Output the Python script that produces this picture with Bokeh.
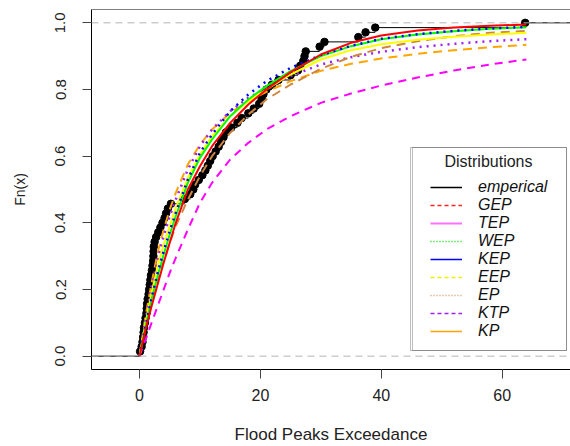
import numpy as np
from bokeh.plotting import figure
from bokeh.models import (Span, BoxAnnotation, Label, Legend, LegendItem,
                          FixedTicker, PrintfTickFormatter, Range1d)
from bokeh.embed import file_html
from bokeh.resources import INLINE

# ---------------- data ----------------
flood_peaks = [0.10, 0.35, 0.50, 0.60, 0.68, 0.75, 0.90, 1.00, 1.15, 1.20,
               1.25, 1.35, 1.50, 1.60, 1.70, 1.80, 1.90, 2.05, 2.15, 2.25,
               2.30, 2.33, 2.36, 2.50, 2.75, 3.10, 3.45, 3.80, 4.15, 4.40,
               4.70, 5.20, 7.50, 8.40, 8.90, 9.20, 9.80, 10.40, 10.90, 11.30,
               11.70, 12.10, 12.60, 13.10, 13.50, 13.90, 14.30, 15.20, 16.20, 16.90,
               18.00, 18.90, 19.80, 20.20, 20.50, 21.00, 21.90, 23.00, 25.00, 26.20,
               26.60, 27.10, 27.30, 27.50, 29.80, 30.60, 36.20, 37.40, 39.00, 63.80]

grid_x = [0, 1, 2, 3, 4, 5, 6, 8, 10, 12, 15, 18, 21, 25, 30, 35, 40, 46, 52, 58, 64]
cdf_red = [0, .08, .15, .215, .28, .34, .40, .50, .57, .63, .70, .755, .80, .852, .905, .94, .962, .977, .986, .991, .995]
cdf_green = [0, .09, .17, .24, .305, .365, .42, .52, .595, .65, .72, .77, .81, .855, .90, .93, .951, .965, .975, .982, .987]
cdf_blue = [0, .09, .175, .25, .315, .375, .43, .53, .61, .665, .735, .785, .825, .865, .903, .931, .952, .966, .976, .983, .988]
cdf_yellow = [0, .10, .19, .27, .335, .39, .445, .535, .605, .66, .72, .765, .80, .845, .89, .918, .936, .949, .958, .965, .970]
cdf_tan = [0, .085, .16, .225, .285, .34, .39, .47, .54, .60, .67, .725, .77, .815, .862, .898, .924, .945, .960, .970, .976]
cdf_purple = [0, .11, .21, .29, .36, .42, .47, .56, .63, .68, .735, .775, .805, .84, .875, .897, .913, .927, .937, .945, .951]
cdf_orange = [0, .12, .22, .31, .38, .44, .49, .575, .635, .68, .73, .765, .793, .825, .856, .877, .893, .907, .918, .927, .934]
cdf_magenta = [0, .05, .10, .15, .20, .25, .295, .38, .46, .52, .59, .64, .68, .72, .76, .788, .812, .836, .857, .875, .89]

x_ticks = [0, 20, 40, 60]
y_ticks = [0.0, 0.2, 0.4, 0.6, 0.8, 1.0]

legend_labels = ["emperical", "GEP", "TEP", "WEP", "KEP", "EEP", "EP", "KTP", "KP"]

FONT = "Liberation Sans"

# ---------------- figure ----------------
xr = Range1d(-7.94, 71.30)
yr = Range1d(-0.04, 1.04)
p = figure(width=570, height=446, x_range=xr, y_range=yr,
           output_backend="svg", toolbar_location=None,
           min_border_left=91, min_border_right=0, min_border_top=9, min_border_bottom=75)
p.xgrid.visible = False
p.ygrid.visible = False
p.outline_line_color = None
p.background_fill_color = "white"
p.border_fill_color = "white"

for ax in (p.xaxis[0], p.yaxis[0]):
    ax.axis_line_color = "black"
    ax.axis_line_width = 1
    ax.major_tick_in = 0
    ax.major_tick_out = 9
    ax.major_tick_line_color = "#444444"
    ax.minor_tick_line_color = None
    ax.major_label_text_font = FONT
    ax.major_label_text_color = "#222222"
    ax.axis_label_text_font = FONT
    ax.axis_label_text_font_style = "normal"
    ax.axis_label_text_color = "#222222"

p.xaxis.ticker = FixedTicker(ticks=x_ticks)
p.yaxis.ticker = FixedTicker(ticks=y_ticks)
p.yaxis.formatter = PrintfTickFormatter(format="%.1f")
p.yaxis.major_label_orientation = "parallel"
p.xaxis.major_label_text_font_size = "16px"
p.yaxis.major_label_text_font_size = "15px"
p.xaxis.major_label_standoff = 10
p.yaxis.major_label_standoff = 17
p.xaxis.axis_label = "Flood Peaks Exceedance"
p.yaxis.axis_label = "Fn(x)"
p.xaxis.axis_label_text_font_size = "17px"
p.yaxis.axis_label_text_font_size = "14px"
p.xaxis.axis_label_standoff = 21
p.yaxis.axis_label_standoff = 25

# top border of the box
p.add_layout(Span(location=yr.end, dimension="width", line_color="black", line_width=1))

# ---------------- empirical CDF ----------------
xs = np.array(flood_peaks)
n = len(xs)
Fn = np.arange(1, n + 1) / n
p.segment(x0=xs[:-1], y0=Fn[:-1], x1=xs[1:], y1=Fn[:-1], line_color="black", line_width=1)
p.segment(x0=[xr.start], y0=[0], x1=[xs[0]], y1=[0], line_color="black", line_width=1)
p.segment(x0=[xs[-1]], y0=[1], x1=[xr.end], y1=[1], line_color="black", line_width=1)
p.scatter(xs, Fn, size=7.5, color="black")

# ---------------- fitted curves ----------------
p.line(grid_x, cdf_magenta, line_color="#FF00FF", line_width=2, line_dash="8 6")
p.line(grid_x, cdf_orange, line_color="#FFA500", line_width=2, line_dash="9 6")
p.line(grid_x, cdf_purple, line_color="#A020F0", line_width=2.5, line_dash="2 5")
p.line(grid_x, cdf_tan, line_color="#CD853F", line_width=2, line_dash="9 6")
p.line(grid_x, cdf_yellow, line_color="#FFFF00", line_width=2)
p.line(grid_x, cdf_green, line_color="#00FF00", line_width=2)
p.line(grid_x, cdf_blue, line_color="#0000FF", line_width=2.5, line_dash="2 5")
p.line(grid_x, cdf_red, line_color="#FF0000", line_width=2)

# 0 and 1 reference lines
for loc in (0.0, 1.0):
    p.add_layout(Span(location=loc, dimension="width", line_color="#B3B3B3",
                      line_width=1, line_dash="7 5"))

# ---------------- legend ----------------
box_a = BoxAnnotation(left=319, right=475, bottom=19, top=222,
                      left_units="screen", right_units="screen",
                      bottom_units="screen", top_units="screen",
                      fill_color="white", fill_alpha=1.0,
                      line_color="#222222", line_width=1)
box_b = BoxAnnotation(left=321, right=475, bottom=19, top=222,
                      left_units="screen", right_units="screen",
                      bottom_units="screen", top_units="screen",
                      fill_alpha=0.0, line_color="#222222", line_width=1)
p.add_layout(box_a)
p.add_layout(box_b)

leg_styles = [
    dict(line_color="black", line_width=1.3),
    dict(line_color="#FF2020", line_width=1.6, line_dash="4 3"),
    dict(line_color="#FF70FF", line_width=2),
    dict(line_color="#00DD00", line_width=1.6, line_dash="1 2"),
    dict(line_color="#0000FF", line_width=1.6),
    dict(line_color="#EEEE00", line_width=1.6, line_dash="4 3"),
    dict(line_color="#D09868", line_width=1.6, line_dash="1 2"),
    dict(line_color="#A020F0", line_width=1.6, line_dash="4 3"),
    dict(line_color="#FFA500", line_width=1.6),
]
items = []
for lab, st in zip(legend_labels, leg_styles):
    r = p.line([np.nan, np.nan], [np.nan, np.nan], **st)
    items.append(LegendItem(label=lab, renderers=[r]))

legend = Legend(items=items, location=(339, 29), padding=0, margin=0, spacing=0,
                glyph_width=32, glyph_height=18, label_height=18, label_standoff=16,
                border_line_color=None, background_fill_alpha=0.0,
                label_text_font=FONT, label_text_font_style="italic",
                label_text_font_size="16px", label_text_color="#111111")
p.add_layout(legend)

p.add_layout(Label(x=397, y=208, x_units="screen", y_units="screen",
                   text="Distributions", text_align="center", text_baseline="middle",
                   text_font=FONT, text_font_size="16px", text_color="#222222"))

open("out.html", "w").write(file_html(p, INLINE))
